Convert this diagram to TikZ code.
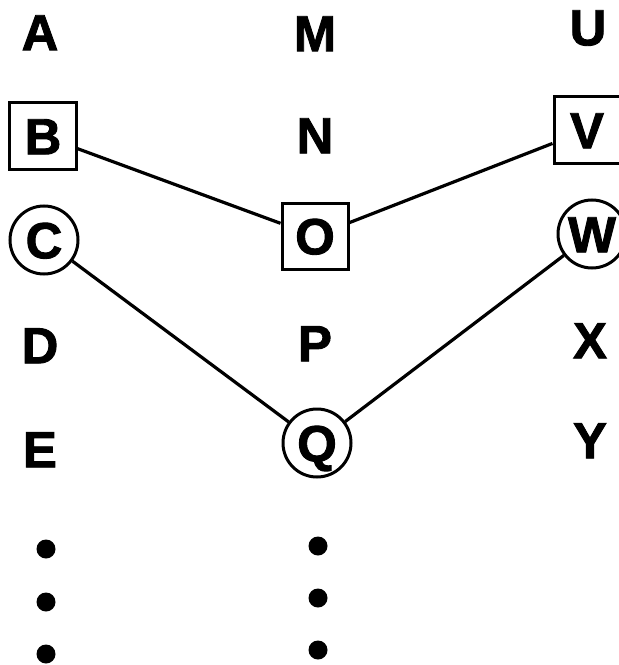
\documentclass[tikz,border=0pt]{standalone}
\usepackage{fontspec}
\newfontfamily\heavyfont{Liberation Sans Bold}[FakeBold=1.8]
\usetikzlibrary{positioning}

\begin{document}
\begin{tikzpicture}[
        x = 1bp, y = -1bp, % pixel like units, y downwards
        every node/.style = {font=\fontsize{51}{51}\heavyfont, text height=36.5bp, text depth=0pt, inner sep=0pt},
        boxed/.style = {draw, line width=3bp, minimum size=66bp},
        ringed/.style = {draw, circle, line width=3bp, minimum size=68bp},
        dot/.style = {fill, circle, minimum size=19bp, text height=0pt},
        link/.style = {line width=3.2bp} % connector style
        ]

  \useasboundingbox (0,0) rectangle (619,665);

  % left column
  \node (a) at (40,32) {A};
  \node[boxed] (b) at (43,136) {B};
  \node[ringed] (c) at (44,240) {C};
  \node (d) at (40,345) {D};
  \node (e) at (40,449) {E};
  \node[dot] (l1) at (46,549) {};
  \node[dot] (l2) at (46,602) {};
  \node[dot] (l3) at (46,654) {};

  % middle column
  \node (m) at (315,33) {M};
  \node (n) at (315,135) {N};
  \node[boxed] (o) at (315,236) {O};
  \node (p) at (315,343) {P};
  \node[ringed] (q) at (317,443) {Q};
  \node[dot] (m1) at (318,546) {};
  \node[dot] (m2) at (318,598) {};
  \node[dot] (m3) at (318,650) {};

  % right column
  \node (u) at (588,27) {U};
  \node[boxed] (v) at (587,130) {V};
  \node[ringed] (w) at (592,234) {W};
  \node (x) at (590,340) {X};
  \node (y) at (590,440) {Y};

  \draw[link] (b) -- (o);
  \draw[link] (o) -- (v);
  \draw[link] (c) -- (q);
  \draw[link] (q) -- (w);

\end{tikzpicture}
\end{document}
